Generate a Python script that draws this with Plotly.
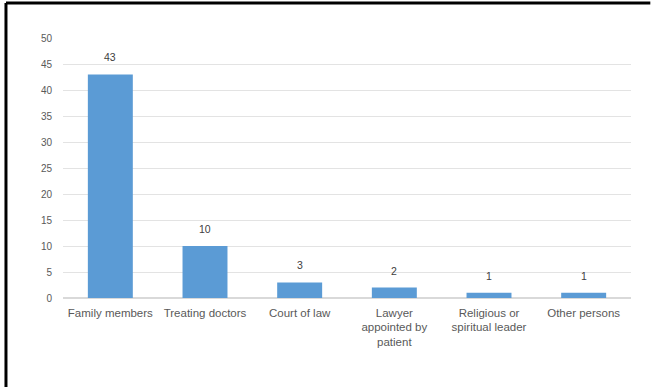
import plotly.graph_objects as go

categories = ["Family members", "Treating doctors", "Court of law",
              "Lawyer<br>appointed by<br>patient", "Religious or<br>spiritual leader", "Other persons"]
values = [43, 10, 3, 2, 1, 1]
y_ticks = [0, 5, 10, 15, 20, 25, 30, 35, 40, 45, 50]

fig = go.Figure()
fig.add_trace(go.Bar(
    x=categories, y=values, width=0.475,
    marker=dict(color="#5B9BD5", line=dict(width=0)),
))

for c, v in zip(categories, values):
    fig.add_annotation(x=c, y=v, text=str(v), showarrow=False, yanchor="middle", yshift=17,
                       font=dict(size=10.5, color="#404040", family="Liberation Sans"))

fig.update_layout(
    width=651, height=387,
    margin=dict(l=63, r=20, t=38, b=89),
    paper_bgcolor="white", plot_bgcolor="white",
    showlegend=False,
    font=dict(family="Liberation Sans", size=10, color="#595959"),
    yaxis=dict(range=[0, 50], tickvals=y_ticks, showgrid=True, gridcolor="#E3E3E3",
               gridwidth=1, zeroline=True, zerolinecolor="#D9D9D9", showline=False,
               ticks="", ticklabelstandoff=10, tickfont=dict(size=10, color="#595959")),
    xaxis=dict(showgrid=False, showline=False, ticks="", tickangle=0, ticklabelstandoff=6,
               tickfont=dict(size=11.5, color="#595959")),
    shapes=[
        dict(type="line", xref="paper", yref="paper", x0=-0.1004, x1=-0.1004, y0=-0.4, y1=1.1346,
             line=dict(color="black", width=3)),
        dict(type="line", xref="paper", yref="paper", x0=-0.1004, x1=1.0, y0=1.1346, y1=1.1346,
             line=dict(color="black", width=3)),
        dict(type="line", xref="paper", yref="paper", x0=1.0, x1=1.034, y0=1.1346, y1=1.1346,
             line=dict(color="black", width=3)),
    ],
)

fig.write_html("out.html", config={"displayModeBar": False})
